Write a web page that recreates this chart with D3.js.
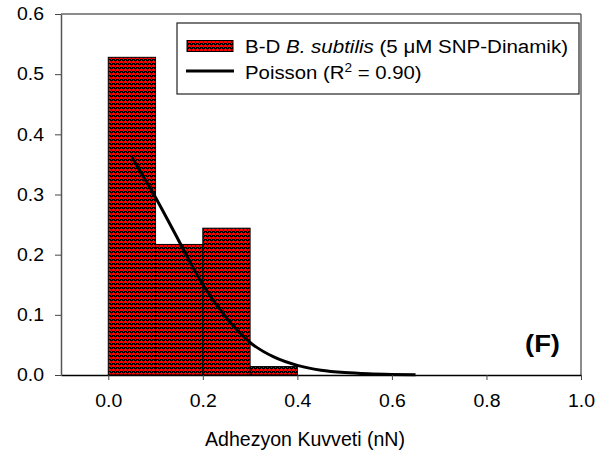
<!DOCTYPE html>
<html><head><meta charset="utf-8">
<script src="https://cdn.jsdelivr.net/npm/d3@7"></script>
<style>body{margin:0;background:#fff}svg{display:block}text{font-family:"Liberation Sans",Arial,sans-serif;fill:#000}</style>
</head><body>
<svg id="c" width="613" height="454"></svg>
<script>
const binStart = [0.0, 0.1, 0.2, 0.3];
const binEnd = [0.1, 0.2, 0.3, 0.4];
const freq = [0.528, 0.217, 0.244, 0.014];
const fitX = [0.05, 0.10, 0.15, 0.20, 0.25, 0.30, 0.35, 0.40, 0.45, 0.50, 0.55, 0.60, 0.65];
const fitY = [0.362, 0.295, 0.222, 0.150, 0.095, 0.054, 0.030, 0.016, 0.008, 0.004, 0.002, 0.001, 0.0005];
const xTicks = [0.0, 0.2, 0.4, 0.6, 0.8, 1.0];
const yTicks = [0.0, 0.1, 0.2, 0.3, 0.4, 0.5, 0.6];
const xTitle = "Adhezyon Kuvveti (nN)";
const panel = "(F)";

const svg = d3.select("#c");
const x = d3.scaleLinear().domain([-0.1, 1.0]).range([61, 581]);
const y = d3.scaleLinear().domain([0, 0.6]).range([375, 14]);

function stretch(sel, f) {
  sel.each(function () {
    const w = this.getComputedTextLength();
    d3.select(this).attr("textLength", w * f).attr("lengthAdjust", "spacingAndGlyphs");
  });
}

const defs = svg.append("defs");
const pat = defs.append("pattern").attr("id", "hatch").attr("patternUnits", "userSpaceOnUse")
  .attr("width", 4).attr("height", 4);
pat.append("rect").attr("width", 4).attr("height", 4).attr("fill", "#000");
pat.append("rect").attr("x", 1).attr("y", 0).attr("width", 1).attr("height", 3).attr("fill", "#ff0000");
pat.append("rect").attr("x", 0).attr("y", 1).attr("width", 3).attr("height", 2).attr("fill", "#ff0000");
pat.append("rect").attr("x", 3).attr("y", 3).attr("width", 1).attr("height", 1).attr("fill", "#ff0000");

// frame top/right
svg.append("line").attr("x1", x(-0.1)).attr("x2", x(1.0)).attr("y1", y(0.6)).attr("y2", y(0.6))
  .attr("stroke", "#666").attr("stroke-width", 1.5);
svg.append("line").attr("x1", x(1.0)).attr("x2", x(1.0)).attr("y1", y(0.6)).attr("y2", y(0))
  .attr("stroke", "#666").attr("stroke-width", 1.5);

// bars
svg.append("g").selectAll("rect").data(freq).join("rect")
  .attr("x", (d, i) => x(binStart[i]))
  .attr("width", (d, i) => x(binEnd[i]) - x(binStart[i]))
  .attr("y", d => y(d))
  .attr("height", d => y(0) - y(d))
  .attr("fill", "url(#hatch)").attr("stroke", "#000").attr("stroke-width", 1);

// fit curve
const line = d3.line().x((d, i) => x(fitX[i])).y(d => y(d)).curve(d3.curveMonotoneX);
svg.append("path").datum(fitY).attr("d", line).attr("fill", "none")
  .attr("stroke", "#000").attr("stroke-width", 3);

// axes
const xa = svg.append("g").attr("transform", `translate(0,${y(0)})`)
  .call(d3.axisBottom(x).tickValues(xTicks).tickFormat(d3.format(".1f")).tickSize(5).tickSizeOuter(0).tickPadding(14));
xa.select(".domain").attr("stroke", "#000").attr("stroke-width", 1.5);
xa.selectAll(".tick line").attr("stroke", "#444");
xa.selectAll("text").attr("font-size", 18).attr("font-family", null);
stretch(xa.selectAll("text"), 1.08);

const ya = svg.append("g").attr("transform", `translate(${x(-0.1)},0)`)
  .call(d3.axisLeft(y).tickValues(yTicks).tickFormat(d3.format(".1f")).tickSize(6).tickSizeOuter(0).tickPadding(11));
ya.select(".domain").attr("stroke", "#555").attr("stroke-width", 1.5);
ya.selectAll(".tick line").attr("stroke", "#444");
ya.selectAll("text").attr("font-size", 18).attr("font-family", null);
stretch(ya.selectAll("text"), 1.08);

svg.append("text").attr("x", 305).attr("y", 446).attr("text-anchor", "middle")
  .attr("font-size", 20).attr("textLength", 200).attr("lengthAdjust", "spacingAndGlyphs").text(xTitle);

svg.append("text").attr("x", 542.5).attr("y", 352).attr("text-anchor", "middle")
  .attr("font-size", 23).attr("font-weight", "bold")
  .attr("textLength", 35).attr("lengthAdjust", "spacingAndGlyphs").text(panel);

// legend
const lg = svg.append("g");
lg.append("rect").attr("x", 177).attr("y", 23).attr("width", 402).attr("height", 71)
  .attr("fill", "#fff").attr("stroke", "#222").attr("stroke-width", 1.2);
lg.append("rect").attr("x", 187).attr("y", 40.5).attr("width", 46).attr("height", 11)
  .attr("fill", "url(#hatch)").attr("stroke", "#000").attr("stroke-width", 1);
lg.append("line").attr("x1", 186).attr("x2", 234).attr("y1", 71).attr("y2", 71)
  .attr("stroke", "#000").attr("stroke-width", 3);
const t1 = lg.append("text").attr("x", 245).attr("y", 53).attr("font-size", 18)
  .attr("textLength", 323).attr("lengthAdjust", "spacingAndGlyphs");
t1.append("tspan").text("B-D ");
t1.append("tspan").attr("font-style", "italic").text("B. subtilis");
t1.append("tspan").text(" (5 \u03bcM SNP-Dinamik)");
const t2 = lg.append("text").attr("x", 245).attr("y", 79).attr("font-size", 18);
t2.append("tspan").text("Poisson (R");
t2.append("tspan").attr("font-size", 12).attr("dy", -7).text("2");
t2.append("tspan").attr("dy", 7).text(" = 0.90)");
stretch(t2, 1.13);
</script>
</body></html>
